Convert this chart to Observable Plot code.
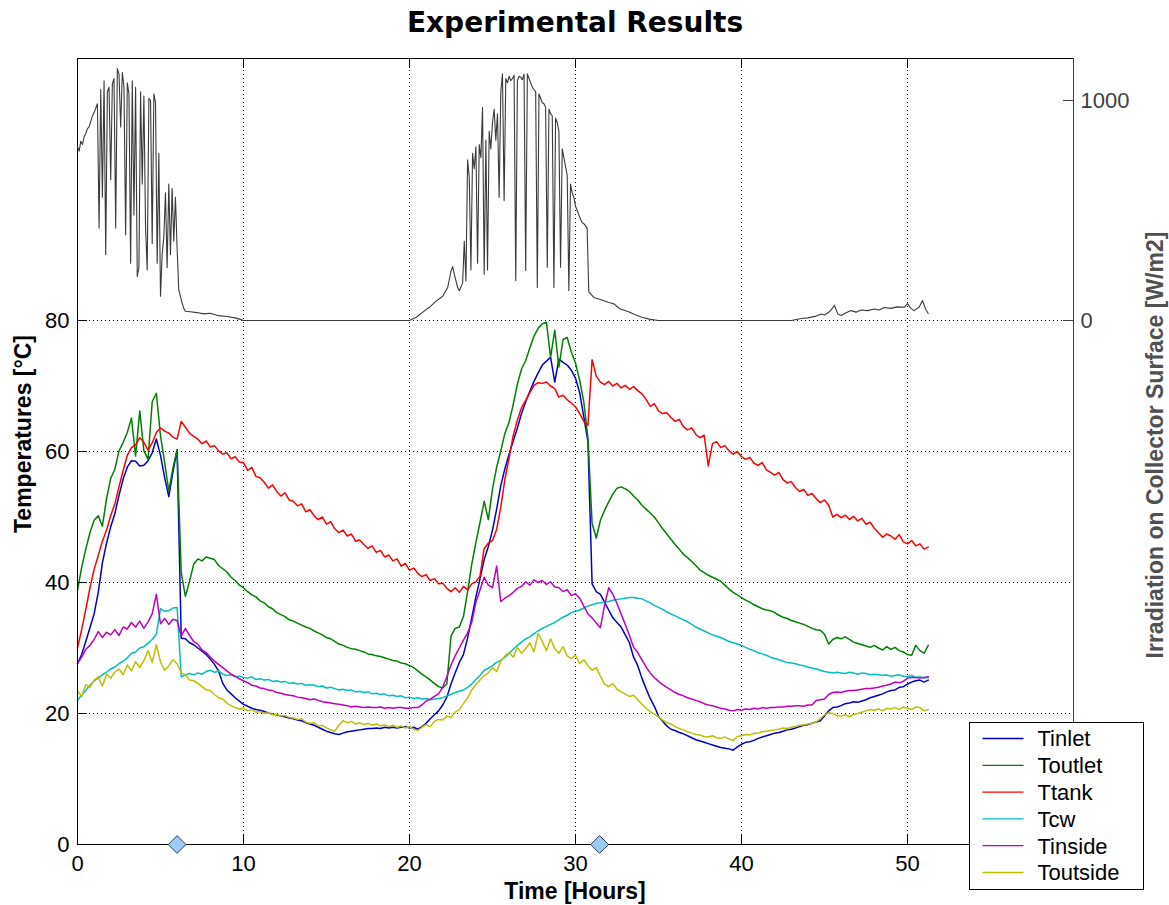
<!DOCTYPE html>
<html>
<head>
<meta charset="utf-8">
<script src="https://cdn.jsdelivr.net/npm/d3@7"></script>
<script src="https://cdn.jsdelivr.net/npm/@observablehq/plot@0.6"></script>
<style>
  html, body { margin: 0; padding: 0; background: #fff; }
  #chart { position: relative; width: 1169px; height: 905px; font-family: "Liberation Sans", Arial, sans-serif; }
  #chart > svg { position: absolute; left: 0; top: 0; }
</style>
</head>
<body>
<div id="chart"></div>
<script>
// Temperature log, one sample every STEP hours, starting at hour 0 (°C)
const STEP = 0.25;

const tInlet = [
  27.6, 29.0, 31.0, 33.1,  35.2, 38.5, 43.0, 46.0,  48.5, 50.5, 53.3, 55.8,
  57.6, 58.6, 58.5, 57.8,  57.9, 58.6, 59.8, 61.9,  59.4, 56.0, 53.1, 56.9,
  60.2, 31.5, 31.4, 30.8,  30.5, 30.0, 29.5, 29.0,  28.3, 27.5, 26.5, 24.6,
  23.6, 23.0, 22.4, 21.9,  21.4, 21.1, 20.8, 20.6,  20.5, 20.3, 20.1, 19.9,
  19.8, 19.6, 19.5, 19.3,  19.2, 19.0, 18.9, 18.6,  18.4, 18.2, 17.9, 17.6,
  17.3, 17.1, 16.9, 16.8,  17.0, 17.2, 17.3, 17.4,  17.5, 17.6, 17.7, 17.7,
  17.8, 17.7, 17.9, 17.8,  17.9, 17.8, 17.9, 18.0,  17.8, 17.9, 17.6, 18.0,
  18.5, 19.2, 19.8, 20.4,  21.3, 22.5, 24.5, 26.2,  27.8, 29.0, 31.5, 34.6,
  37.8, 40.6, 43.5, 45.5,  48.0, 51.2, 54.8, 57.4,  59.6, 61.6, 63.6, 65.8,
  67.6, 69.2, 70.7, 72.0,  73.2, 73.8, 74.4, 70.6,  74.1, 73.6, 73.2, 72.4,
  71.2, 69.0, 65.3, 61.5,  39.8, 38.6, 38.2, 37.0,  35.8, 34.6, 33.9, 33.2,
  32.0, 30.8, 28.6, 27.3,  25.4, 23.8, 22.3, 21.1,  19.6, 18.8, 18.1, 17.6,
  17.4, 17.1, 16.9, 16.6,  16.3, 16.0, 15.8, 15.6,  15.4, 15.2, 15.0, 14.8,
  14.7, 14.6, 14.4, 14.9,  15.3, 15.6, 15.7, 15.9,  16.2, 16.4, 16.6, 16.8,
  17.0, 17.1, 17.3, 17.5,  17.6, 17.8, 18.0, 18.2,  18.3, 18.5, 18.7, 18.9,
  19.6, 20.4, 20.9, 21.0,  21.2, 21.5, 21.6, 21.8,  21.7, 21.9, 22.1, 22.4,
  22.6, 22.8, 23.0, 23.3,  23.5, 23.6, 24.0, 24.1,  24.5, 24.8, 25.0, 25.1,
  24.8, 25.1
];

const tOutlet = [
  38.8, 42.3, 45.1, 47.6,  49.5, 50.2, 48.6, 52.8,  55.9, 57.3, 60.1, 61.4,
  62.9, 65.1, 59.3, 66.2,  60.1, 58.8, 67.6, 68.9,  62.4, 58.3, 54.0, 57.5,
  60.3, 41.5, 37.9, 40.2,  42.8, 43.6, 43.3, 43.9,  43.7, 43.5, 42.6, 42.1,
  41.6, 40.8, 40.3, 39.6,  39.2, 38.6, 38.1, 37.8,  37.2, 36.9, 36.3, 36.0,
  35.4, 35.1, 34.8, 34.3,  34.1, 33.8, 33.5, 33.2,  33.0, 32.6, 32.3, 32.0,
  31.6, 31.4, 31.0, 30.6,  30.4, 30.1, 29.9, 29.8,  29.6, 29.4, 29.1, 29.0,
  28.8, 28.7, 28.5, 28.3,  28.1, 28.0, 27.7, 27.6,  27.3, 27.0, 26.5, 26.0,
  25.6, 25.1, 24.6, 24.1,  23.9, 24.5, 31.8, 33.0,  33.2, 34.8, 38.6, 42.8,
  46.1, 49.2, 52.4, 49.6,  54.3, 57.6, 60.1, 62.8,  64.5, 67.2, 70.3, 72.6,
  73.9, 75.8, 77.6, 78.8,  79.5, 79.7, 74.4, 78.5,  72.9, 77.1, 77.4, 75.2,
  73.5, 70.9, 67.6, 62.0,  49.0, 46.8, 49.5, 51.0,  52.3, 53.5, 54.4, 54.6,
  54.3, 53.9, 53.2, 52.6,  51.8, 51.2, 50.6, 50.0,  49.1, 48.2, 47.4, 46.6,
  45.8, 45.1, 44.3, 43.8,  43.2, 42.6, 41.9, 41.5,  41.1, 40.8, 40.5, 40.2,
  39.6, 39.0, 38.5, 38.1,  37.7, 37.3, 37.0, 36.6,  36.3, 36.0, 35.8, 35.7,
  35.4, 35.0, 34.7, 34.5,  34.2, 34.0, 33.8, 33.6,  33.3, 33.0, 32.8, 32.7,
  32.1, 30.6, 31.3, 31.6,  31.4, 31.7, 31.3, 30.9,  30.7, 30.5, 30.3, 30.1,
  30.4, 30.0, 29.7, 30.2,  29.8, 30.1, 29.6, 29.4,  29.0, 28.9, 30.4, 29.6,
  29.2, 30.4
];

const tTank = [
  30.0, 32.8, 35.9, 39.2,  42.0, 44.1, 46.3, 48.0,  50.2, 52.0, 54.6, 57.1,
  59.4, 60.6, 61.0, 62.1,  61.4, 60.2, 61.3, 62.9,  63.6, 63.1, 62.8, 62.2,
  61.9, 64.6, 63.7, 62.8,  62.3, 61.9, 61.2, 61.6,  60.7, 60.9, 60.1, 59.6,
  59.8, 58.9, 59.2, 58.4,  58.3, 57.1, 57.6, 56.2,  56.0, 55.3, 54.4, 54.9,
  53.9, 53.2, 53.7, 52.6,  52.4, 51.7, 52.0, 50.8,  51.1, 50.2, 49.6, 50.0,
  48.9, 49.3, 48.2, 47.6,  48.0, 47.1, 47.4, 46.3,  46.5, 45.8, 45.2, 45.6,
  44.6, 44.9, 43.9, 44.2,  43.3, 43.6, 42.5, 42.9,  41.9, 42.2, 41.4, 40.9,
  41.2, 40.3, 40.6, 39.8,  39.9, 39.1, 38.6, 39.2,  38.5, 39.4, 38.9, 39.8,
  40.1, 41.0, 45.2, 46.0,  46.4, 48.1, 51.5, 55.8,  59.0, 62.5, 64.8, 66.7,
  67.8, 69.0, 70.1, 70.5,  70.4, 70.6, 70.0, 69.6,  68.3, 68.6, 67.9, 67.4,
  66.8, 65.8, 64.6, 64.0,  74.0, 71.5, 70.6, 70.2,  70.7, 70.0, 70.4, 69.7,
  70.1, 69.5, 69.9, 69.3,  68.8, 68.0, 66.9, 67.3,  66.2, 65.8, 65.9, 65.2,
  64.6, 64.9, 63.8, 63.3,  63.6, 62.6, 62.1, 62.5,  57.8, 61.2, 61.5, 60.6,
  60.9, 60.1, 59.6, 60.0,  59.2, 58.8, 59.1, 58.2,  57.9, 58.3, 57.2, 56.8,
  56.4, 56.8, 55.7, 55.2,  55.4, 54.5, 53.9, 54.2,  53.3, 53.6, 52.8, 52.2,
  52.6, 51.8, 50.0, 50.4,  49.9, 50.3, 49.6, 50.1,  49.4, 49.8, 48.9, 49.2,
  48.3, 47.6, 46.9, 47.4,  47.1, 46.6, 47.3, 46.2,  45.9, 46.4, 45.6, 45.9,
  45.1, 45.4
];

const tCw = [
  22.0, 22.8, 23.5, 24.3,  25.0, 25.4, 25.9, 26.3,  26.8, 27.1, 27.6, 28.0,
  28.5, 29.2, 29.4, 30.0,  30.2, 30.7, 31.3, 32.1,  36.0, 35.6, 35.7, 36.1,
  36.2, 25.6, 25.9, 26.1,  25.9, 26.2, 26.0, 26.4,  26.6, 26.3, 26.5, 26.0,
  25.8, 25.9, 25.6, 25.7,  25.5, 25.4, 25.6, 25.2,  25.3, 25.1, 25.2, 24.9,
  25.0, 24.8, 24.9, 24.6,  24.7, 24.5, 24.6, 24.3,  24.4, 24.3, 24.1, 24.2,
  23.9, 24.0, 23.8, 23.6,  23.7, 23.5, 23.6, 23.3,  23.4, 23.2, 23.3, 23.0,
  23.1, 22.9, 23.0, 22.7,  22.8, 22.6, 22.7, 22.4,  22.5, 22.3, 22.4, 22.2,
  22.3, 22.1, 22.2, 22.3,  22.4, 22.7, 22.9, 23.2,  23.4, 23.6, 24.0, 24.5,
  25.2, 25.8, 26.6, 26.9,  27.3, 27.8, 28.1, 28.6,  29.2, 29.8, 30.4, 30.9,
  31.4, 31.7, 32.2, 32.6,  33.0, 33.3, 33.6, 33.9,  34.3, 34.7, 35.0, 35.4,
  35.6, 35.8, 36.1, 36.4,  36.6, 36.8, 36.9, 37.0,  37.1, 37.3, 37.4, 37.5,
  37.6, 37.7, 37.7, 37.6,  37.5, 37.2, 36.9, 36.5,  36.2, 35.9, 35.5, 35.2,
  34.9, 34.6, 34.3, 34.0,  33.6, 33.2, 32.9, 32.6,  32.3, 32.0, 31.8, 31.6,
  31.3, 31.0, 30.8, 30.6,  30.4, 30.1, 29.8, 29.6,  29.3, 29.1, 28.9, 28.6,
  28.4, 28.2, 28.0, 27.8,  27.7, 27.6, 27.4, 27.3,  27.1, 26.9, 26.8, 26.6,
  26.4, 26.3, 26.2, 26.3,  26.2, 26.1, 26.3, 26.2,  26.0, 26.2, 26.1, 25.9,
  26.0, 25.9, 25.8, 25.9,  25.7, 25.8, 25.9, 25.7,  25.6, 25.8, 25.5, 25.6,
  25.4, 25.5
];

const tInside = [
  27.6, 28.6, 29.8, 30.4,  31.3, 32.5, 31.6, 32.4,  32.0, 32.8, 31.9, 33.2,
  32.9, 33.9, 33.2, 34.1,  33.0, 34.0, 35.2, 38.2,  33.7, 34.5, 33.6, 34.4,
  34.2, 31.8, 33.0, 31.9,  31.0, 30.6, 29.7, 29.3,  28.6, 28.0, 27.5, 27.0,
  26.5, 26.0, 25.7, 25.3,  25.0, 24.7, 24.3, 24.2,  23.9, 23.8, 23.6, 23.5,
  23.2, 23.1, 22.9, 22.8,  22.7, 22.5, 22.4, 22.3,  22.1, 22.2, 22.0, 21.8,
  21.7, 21.6, 21.5, 21.4,  21.3, 21.2, 21.0, 21.1,  21.0, 20.9, 21.0, 20.9,
  20.9, 21.0, 20.8, 20.9,  20.8, 20.9, 20.9, 20.8,  20.8, 20.9, 20.9, 21.3,
  21.9, 22.2, 22.6, 23.0,  24.0, 25.6, 27.4, 28.8,  30.0, 31.2, 32.3, 33.9,
  37.0, 38.9, 40.8, 39.6,  39.2, 42.5, 37.1, 37.6,  38.0, 38.5, 39.1, 39.4,
  40.1, 39.6, 40.4, 40.0,  40.3, 39.7, 40.1, 39.3,  39.2, 38.6, 38.9, 38.0,
  38.3, 37.6, 36.4, 35.2,  34.6, 33.8, 33.1, 36.5,  39.2, 38.2, 36.8, 35.2,
  33.6, 31.9, 30.1, 29.3,  28.2, 27.1, 26.2, 25.5,  24.9, 24.4, 24.0, 23.6,
  23.2, 22.9, 22.7, 22.4,  22.2, 22.0, 21.8, 21.5,  21.3, 21.2, 21.0, 20.8,
  20.7, 20.5, 20.4, 20.6,  20.5, 20.7, 20.6, 20.8,  20.7, 20.9, 20.8, 20.9,
  20.9, 21.0, 21.0, 21.1,  21.1, 21.2, 21.2, 21.1,  21.3, 21.3, 22.0, 22.1,
  22.2, 22.9, 23.2, 23.3,  23.2, 23.4, 23.5, 23.5,  23.6, 23.7, 23.8, 23.8,
  23.9, 24.0, 24.2, 24.3,  24.5, 24.8, 24.7, 24.9,  25.4, 25.5, 25.5, 25.4,
  25.5, 25.6
];

const tOutside = [
  23.5, 22.6, 24.4, 24.0,  25.1, 25.6, 24.2, 26.0,  25.4, 26.3, 26.8, 25.9,
  27.4, 26.5, 27.9, 27.0,  28.1, 29.6, 27.8, 30.5,  27.9, 26.6, 27.3, 28.2,
  27.6, 26.2, 25.9, 25.1,  25.0, 24.6, 24.1, 23.6,  23.5, 22.9, 22.4, 22.2,
  21.6, 21.2, 20.9, 20.7,  20.8, 20.4, 20.6, 20.2,  20.3, 20.0, 20.1, 19.8,
  19.9, 19.6, 19.7, 19.4,  19.3, 19.1, 19.2, 18.7,  18.5, 18.6, 18.1, 18.2,
  17.8, 17.5, 17.3, 18.2,  18.9, 18.6, 18.8, 18.4,  18.6, 18.3, 18.5, 18.2,
  18.4, 18.1, 18.3, 18.0,  18.2, 17.9, 18.1, 17.8,  18.0, 17.6, 17.4, 17.9,
  18.3, 18.0, 18.8, 19.1,  19.0, 19.6, 19.4, 20.2,  20.6, 21.5, 22.4, 23.6,
  24.4, 25.1, 25.8, 26.2,  27.0, 26.4, 28.0, 28.8,  29.3, 28.6, 30.1, 29.2,
  29.9, 30.8, 29.4, 32.2,  31.0, 29.6, 31.4, 29.9,  29.2, 30.2, 28.8, 28.4,
  28.9, 27.6, 28.2, 27.3,  26.6, 27.0, 25.7, 24.5,  24.1, 24.6, 23.7, 23.3,
  23.0, 22.6, 22.8, 22.1,  21.4, 20.8, 20.3, 19.9,  19.5, 19.0, 18.6, 18.4,
  18.0, 17.7, 17.5, 17.2,  17.0, 16.8, 16.7, 16.5,  16.4, 16.6, 16.3, 16.2,
  16.4, 16.1, 15.9, 16.5,  16.6, 16.8, 16.7, 17.0,  17.0, 17.2, 17.3, 17.4,
  17.5, 17.6, 17.8, 17.7,  17.9, 18.0, 18.2, 18.3,  18.4, 18.5, 18.7, 19.2,
  19.8, 20.1, 20.0, 19.7,  19.6, 19.8, 19.5, 19.9,  20.0, 20.2, 20.4, 20.6,
  20.5, 20.7, 20.4, 20.8,  20.7, 20.9, 20.6, 21.0,  20.8, 20.6, 21.0, 20.9,
  20.4, 20.6
];

const seriesNames = ["Tinlet", "Toutlet", "Ttank", "Tcw", "Tinside", "Toutside"];
const seriesColors = ["#0000cc", "#008000", "#ff0000", "#00bfbf", "#bf00bf", "#bfbf00"];

// Irradiation on the collector (W/m2): two sunny mornings logged every 0.1 h ...
const IRR_STEP = 0.1;
const irrDay1Start = 0;
const irrDay1 = [
  790, 770, 815, 800, 835, 850, 872, 880, 905, 930,
  945, 965, 985, 420, 1050, 560, 1090, 300, 1040, 1060,
  640, 1075, 1100, 420, 1145, 1120, 880, 1127, 1060, 390,
  1080, 1030, 260, 1090, 480, 1060, 200, 240, 1040, 620,
  1020, 420, 230, 1010, 1000, 350, 1030, 990, 260, 760,
  110, 300, 380, 580, 240, 620, 300, 600, 360, 560,
  330, 140
];
const irrDay2Start = 23.3;
const irrDay2 = [
  360, 180, 730, 650, 230, 760, 690, 790, 260, 800,
  740, 968, 210, 820, 230, 860, 780, 900, 960, 820,
  940, 560, 1040, 1121, 545, 1100, 1080, 1110, 1090, 1100,
  1115, 182, 1090, 1110, 1106, 1095, 1120, 227, 1121, 1100,
  1080, 1060, 1050, 1040, 150, 1030, 1010, 990, 985, 970,
  242, 960, 940, 930, 150, 920, 900, 860, 242, 780,
  740, 700, 660, 136, 620, 580, 560, 520, 500, 480,
  460, 445, 440, 430, 420, 130
];
// ... and the calmer stretches in between
const irrOtherHours = [
  6.2, 6.3, 6.4, 6.5, 6.8, 7.2, 7.6, 8.0, 8.5, 9.0, 9.5, 9.8, 10.0,
  20.0, 20.4, 20.8, 21.2, 21.6, 22.0, 22.3, 22.5, 22.6, 22.7, 22.9, 23.0, 23.2,
  30.9, 31.1, 31.5, 32.0, 32.3, 32.7, 33.2, 33.6, 34.0, 34.5, 35.0,
  43.0, 43.6, 44.0, 44.5, 44.8, 45.0, 45.3, 45.6, 45.8, 46.0, 46.3, 46.6, 46.9,
  47.2, 47.6, 48.0, 48.3, 48.6, 49.0, 49.4, 49.8, 50.0, 50.2, 50.4, 50.7, 50.9,
  51.1, 51.25
];
const irrOtherWm2 = [
  110, 80, 55, 42, 40, 36, 30, 33, 22, 18, 12, 5, 0,
  0, 15, 38, 60, 88, 110, 150, 225, 245, 210, 150, 135, 170,
  122, 105, 95, 82, 76, 52, 40, 26, 15, 5, 0,
  0, 9, 12, 20, 30, 25, 40, 68, 30, 23, 35, 45, 38,
  48, 45, 52, 48, 59, 55, 62, 60, 77, 55, 45, 60, 91,
  50, 32
];

// Marked instants on the time axis (hours)
const markerHours = [6.0, 31.45];

const xTicks = [0, 10, 20, 30, 40, 50];
const yTicks = [0, 20, 40, 60, 80];
const irrTicks = [0, 1000];

// ---- layout ----
const W = 1169, H = 905;
const M = {top: 58, right: 96, bottom: 61, left: 77};
const plotW = W - M.left - M.right;
const plotH = H - M.top - M.bottom;
const TICK = 10;
const FONT = "Liberation Sans, Arial, Helvetica, sans-serif";

// tidy tables
const seriesValues = [tInlet, tOutlet, tTank, tCw, tInside, tOutside];
const temps = seriesNames.flatMap((name, k) =>
  seriesValues[k].map((v, i) => ({name, hour: i * STEP, value: v})));

const irr = [
  ...irrDay1.map((v, i) => ({hour: irrDay1Start + i * IRR_STEP, wm2: v})),
  ...irrDay2.map((v, i) => ({hour: irrDay2Start + i * IRR_STEP, wm2: v})),
  ...irrOtherHours.map((h, i) => ({hour: h, wm2: irrOtherWm2[i]}))
].sort((a, b) => a.hour - b.hour);

const common = {
  width: W, height: H,
  marginTop: M.top, marginRight: M.right, marginBottom: M.bottom, marginLeft: M.left,
  style: {background: "transparent", fontFamily: FONT, fontSize: "22px", color: "#000", overflow: "visible"}
};

// temperatures on the left axis
const tempPlot = Plot.plot({
  ...common,
  x: {domain: [0, 60], axis: null},
  y: {domain: [0, 120], axis: null},
  color: {domain: seriesNames, range: seriesColors},
  marks: [
    Plot.ruleX(xTicks.slice(1), {stroke: "#000", strokeWidth: 1, strokeDasharray: "1,3"}),
    Plot.ruleY(yTicks.slice(1), {stroke: "#000", strokeWidth: 1, strokeDasharray: "1,3"}),
    Plot.lineY(temps, {x: "hour", y: "value", z: "name", stroke: "name", strokeWidth: 1.5}),
    Plot.frame({stroke: "#000", strokeWidth: 1}),
    Plot.ruleX(xTicks, {stroke: "#000", insetTop: plotH - TICK}),
    Plot.ruleX(xTicks, {stroke: "#000", insetBottom: plotH - TICK}),
    Plot.ruleY(yTicks, {stroke: "#000", insetRight: plotW - TICK}),
    Plot.axisX(xTicks, {anchor: "bottom", tickSize: 0, tickPadding: 11, fontSize: 22, label: null, tickFormat: "d"}),
    Plot.axisY(yTicks, {anchor: "left", tickSize: 0, tickPadding: 8, fontSize: 22, label: null, tickFormat: "d"}),
    Plot.dot(markerHours, {x: d => d, y: () => 0, symbol: "diamond2", r: 8, fill: "#9ccbf7", stroke: "#2b3f57", strokeWidth: 1})
  ]
});

// irradiation on the right axis
const irrPlot = Plot.plot({
  ...common,
  x: {domain: [0, 60], axis: null},
  y: {domain: [-2381.8, 1190.9], axis: null},
  marks: [
    Plot.lineY(irr, {x: "hour", y: "wm2", stroke: "#3a3a3a", strokeWidth: 1.1}),
    Plot.ruleX([60], {stroke: "#404040"}),
    Plot.ruleY(irrTicks, {stroke: "#404040", insetLeft: plotW - TICK}),
    Plot.axisY(irrTicks, {anchor: "right", tickSize: 0, tickPadding: 7, fontSize: 22, label: null, tickFormat: "d", fill: "#404040"})
  ]
});

const chart = document.getElementById("chart");
chart.appendChild(tempPlot);
chart.appendChild(irrPlot);

// titles, axis labels and legend
const deco = d3.create("svg")
  .attr("width", W).attr("height", H)
  .style("font-family", FONT)
  .style("pointer-events", "none");

deco.append("text")
  .attr("x", M.left + plotW / 2).attr("y", 32)
  .attr("text-anchor", "middle").attr("font-weight", "bold").attr("font-size", 28)
  .attr("font-family", "DejaVu Sans, Verdana, sans-serif")
  .text("Experimental Results");

deco.append("text")
  .attr("x", M.left + plotW / 2).attr("y", 899)
  .attr("text-anchor", "middle").attr("font-weight", "bold").attr("font-size", 23)
  .text("Time [Hours]");

deco.append("text")
  .attr("transform", "translate(31,434) rotate(-90)")
  .attr("text-anchor", "middle").attr("font-weight", "bold").attr("font-size", 23)
  .text("Temperatures [°C]");

deco.append("text")
  .attr("transform", "translate(1163,445) rotate(-90)")
  .attr("text-anchor", "middle").attr("font-weight", "bold").attr("font-size", 23)
  .attr("fill", "#505050")
  .text("Irradiation on Collector Surface [W/m2]");

const legend = deco.append("g").attr("transform", "translate(969.5,722.5)");
legend.append("rect").attr("width", 174).attr("height", 167)
  .attr("fill", "#fff").attr("stroke", "#000").attr("stroke-width", 1);
seriesNames.forEach((name, i) => {
  const yRow = 16 + i * 26.8;
  legend.append("line")
    .attr("x1", 13).attr("x2", 54).attr("y1", yRow).attr("y2", yRow)
    .attr("stroke", seriesColors[i]).attr("stroke-width", 1.3);
  legend.append("text")
    .attr("x", 68).attr("y", yRow).attr("dy", "0.36em")
    .attr("font-size", 22).attr("fill", "#000")
    .text(name);
});

chart.appendChild(deco.node());
</script>
</body>
</html>
